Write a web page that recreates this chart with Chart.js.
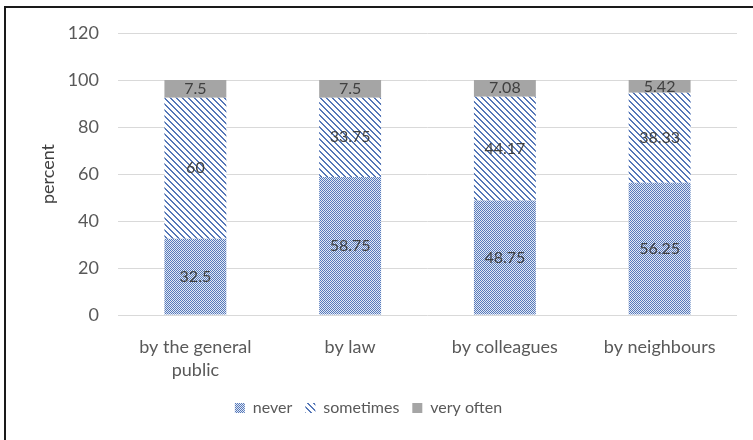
<!DOCTYPE html>
<html lang="en">
<head>
    <meta charset="UTF-8">
    <title>Stacked percent chart</title>
    <script src="https://cdn.jsdelivr.net/npm/chart.js"></script>
    <style>
        body { margin: 0; background: #fff; }
        #wrap { position: relative; width: 753px; height: 440px; }
    </style>
</head>
<body>
    <div id="wrap"><canvas id="myChart" width="753" height="440"></canvas></div>

    <script>
        // values
        const categories = [['by the general', 'public'], 'by law', 'by colleagues', 'by neighbours'];
        const never = [32.5, 58.75, 48.75, 56.25];
        const sometimes = [60, 33.75, 44.17, 38.33];
        const veryOften = [7.5, 7.5, 7.08, 5.42];
        const yTicks = [0, 20, 40, 60, 80, 100, 120];

        const FONT = 'Lato, "Open Sans", sans-serif';

        // small tile patterns like the Excel fills
        function checkerPattern() {
            const c = document.createElement('canvas');
            c.width = 2; c.height = 2;
            const g = c.getContext('2d');
            g.fillStyle = '#e3e9f5';
            g.fillRect(0, 0, 2, 2);
            g.fillStyle = '#5679ba';
            g.fillRect(0, 0, 1, 1);
            g.fillRect(1, 1, 1, 1);
            return g.createPattern(c, 'repeat');
        }

        function stripePattern() {
            const n = 6;
            const c = document.createElement('canvas');
            c.width = n; c.height = n;
            const g = c.getContext('2d');
            g.fillStyle = '#ffffff';
            g.fillRect(0, 0, n, n);
            g.fillStyle = '#5577b8';
            for (let y = 0; y < n; y++) {
                for (let x = 0; x < n; x++) {
                    const d = ((x - y) % n + n) % n;
                    if (d < 2) g.fillRect(x, y, 1, 1);
                }
            }
            return g.createPattern(c, 'repeat');
        }

        // value labels in the middle of each segment
        const segmentLabels = {
            id: 'segmentLabels',
            afterDatasetsDraw(chart) {
                const ctx = chart.ctx;
                ctx.save();
                ctx.font = '16px ' + FONT;
                ctx.fillStyle = '#404040';
                ctx.textAlign = 'center';
                ctx.textBaseline = 'middle';
                chart.data.datasets.forEach((ds, i) => {
                    chart.getDatasetMeta(i).data.forEach((bar, j) => {
                        const p = bar.getCenterPoint();
                        ctx.fillText(String(ds.data[j]), p.x, p.y);
                    });
                });
                ctx.restore();
            }
        };

        // top and left frame lines
        const frame = {
            id: 'frame',
            beforeDraw(chart) {
                const ctx = chart.ctx;
                ctx.save();
                ctx.fillStyle = '#ffffff';
                ctx.fillRect(0, 0, chart.width, chart.height);
                ctx.strokeStyle = '#1a1a1a';
                ctx.lineWidth = 2;
                ctx.beginPath();
                ctx.moveTo(5, chart.height);
                ctx.lineTo(5, 7);
                ctx.lineTo(chart.width, 7);
                ctx.stroke();
                ctx.restore();
            }
        };

        const ctx = document.getElementById('myChart').getContext('2d');
        new Chart(ctx, {
            type: 'bar',
            data: {
                labels: categories,
                datasets: [
                    { label: 'never', data: never, backgroundColor: checkerPattern() },
                    { label: 'sometimes', data: sometimes, backgroundColor: stripePattern() },
                    { label: 'very often', data: veryOften, backgroundColor: '#a5a5a5' }
                ]
            },
            options: {
                responsive: false,
                animation: false,
                barPercentage: 0.4,
                categoryPercentage: 1,
                layout: { padding: { left: 0, top: 33, right: 16, bottom: 14 } },
                plugins: {
                    legend: {
                        position: 'bottom',
                        labels: {
                            font: { family: FONT, size: 16 },
                            color: '#595959',
                            boxWidth: 10,
                            boxHeight: 10,
                            padding: 13
                        }
                    },
                    tooltip: { enabled: false }
                },
                scales: {
                    x: {
                        stacked: true,
                        grid: { display: false },
                        border: { display: false },
                        ticks: {
                            font: { family: FONT, size: 18, lineHeight: 1.3 },
                            color: '#595959',
                            padding: 12,
                            maxRotation: 0
                        },
                        afterFit(scale) { scale.height = 72; }
                    },
                    y: {
                        stacked: true,
                        min: 0,
                        max: 120,
                        afterBuildTicks(scale) { scale.ticks = yTicks.map(v => ({ value: v })); },
                        grid: { color: '#d9d9d9', drawTicks: false },
                        border: { display: false },
                        ticks: {
                            font: { family: FONT, size: 18 },
                            color: '#595959',
                            padding: 19
                        },
                        title: {
                            display: true,
                            text: 'percent',
                            font: { family: FONT, size: 18 },
                            color: '#404040',
                            padding: { top: 37, bottom: 0 }
                        },
                        afterFit(scale) { scale.width = 118; }
                    }
                }
            },
            plugins: [frame, segmentLabels]
        });
    </script>
</body>
</html>
